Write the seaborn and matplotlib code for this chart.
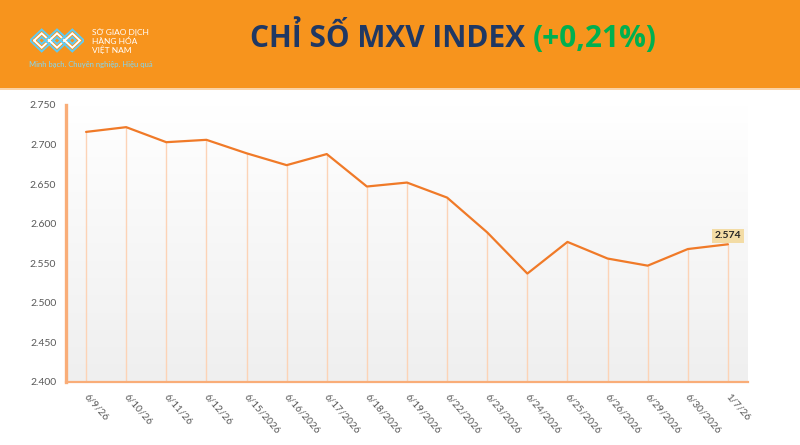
import numpy as np
import pandas as pd
import matplotlib
matplotlib.use("Agg")
import matplotlib.pyplot as plt
import matplotlib.transforms as mtransforms
import seaborn as sns
from matplotlib.patches import Rectangle

# dữ liệu chỉ số MXV
dates = ["6/9/26", "6/10/26", "6/11/26", "6/12/26", "6/15/2026", "6/16/2026",
         "6/17/2026", "6/18/2026", "6/19/2026", "6/22/2026", "6/23/2026",
         "6/24/2026", "6/25/2026", "6/26/2026", "6/29/2026", "6/30/2026", "1/7/26"]
values = [2716, 2722, 2703, 2706, 2689, 2674, 2688, 2647, 2652, 2633, 2589,
          2537, 2577, 2556, 2547, 2568, 2574]
y_ticks = [2400, 2450, 2500, 2550, 2600, 2650, 2700, 2750]
title_main = "CHỈ SỐ MXV INDEX "
title_change = "(+0,21%)"

ORANGE = "#f7941d"
LINE = "#f07a28"
NAVY = "#1f3864"
GREEN = "#00b050"
GRAY = "#595959"
CYAN = "#5fcaf2"

sns.set_style("white")
plt.rcParams["font.family"] = ["Lato", "DejaVu Sans"]

df = pd.DataFrame({"pos": np.arange(len(dates)), "value": values})

fig = plt.figure(figsize=(8, 4.45), dpi=100)
fig.patch.set_facecolor("white")

# dải tiêu đề màu cam
fig.patches.append(Rectangle((0, 0.802), 1, 0.198, transform=fig.transFigure,
                             facecolor=ORANGE, edgecolor="none", zorder=-10))
fig.patches.append(Rectangle((0, 0.798), 1, 0.005, transform=fig.transFigure,
                             facecolor="#fbd3a6", edgecolor="none", zorder=-10))

ax = fig.add_axes([66 / 800, 1 - 382 / 445, 682 / 800, 277 / 445])

# nền chuyển sắc trắng -> xám
grad = np.linspace(1, 0, 256).reshape(-1, 1)
ax.imshow(grad, cmap=matplotlib.colors.LinearSegmentedColormap.from_list(
    "g", ["#efefef", "#ffffff"]), aspect="auto",
    extent=(-0.5, len(dates) - 0.5, 2400, 2750), origin="upper", zorder=0)

ax.vlines(df["pos"], 2400, df["value"], color="#fcd3b6", lw=1.0, zorder=1)
sns.lineplot(data=df, x="pos", y="value", ax=ax, color=LINE, lw=1.6, zorder=3)

ax.set_xlim(-0.5, len(dates) - 0.5)
ax.set_ylim(2400, 2750)
ax.set_yticks(y_ticks)
ax.set_yticklabels([f"{v / 1000:.3f}" for v in y_ticks], color=GRAY, fontsize=7.5)
ax.set_xticks(df["pos"])
ax.set_xticklabels(dates, rotation=-49, ha="left", va="top", color=GRAY, fontsize=7.2)
ax.tick_params(axis="both", length=0)
ax.tick_params(axis="y", pad=7)
ax.tick_params(axis="x", pad=7)
# dịch nhãn trục x sang trái một chút
shift = mtransforms.ScaledTranslation(-4 / 100, 0, fig.dpi_scale_trans)
for lbl in ax.get_xticklabels():
    lbl.set_transform(lbl.get_transform() + shift)
ax.set_xlabel("")
ax.set_ylabel("")
ax.grid(False)

for s in ["top", "right"]:
    ax.spines[s].set_visible(False)
ax.spines["left"].set_color("#f9ad78")
ax.spines["left"].set_linewidth(2.4)
ax.spines["bottom"].set_color("#f9ad78")
ax.spines["bottom"].set_linewidth(1.6)

# nhãn giá trị cuối
ax.annotate(f"{values[-1] / 1000:.3f}", xy=(df["pos"].iloc[-1], values[-1]),
            xytext=(0, 6), textcoords="offset points", ha="center", va="center",
            fontsize=7.5, fontweight="bold", color="#262626",
            bbox=dict(boxstyle="square,pad=0.25", fc="#f3dca5", ec="none"), zorder=5)

# tiêu đề
t1 = fig.text(250 / 800, 1 - 39 / 445, title_main, ha="left", va="center",
              fontsize=21.5, fontweight="bold", color=NAVY, family=["Open Sans", "DejaVu Sans"])
fig.canvas.draw()
bb = t1.get_window_extent()
fig.text(bb.x1 / fig.bbox.width, 1 - 39 / 445, title_change, ha="left", va="center",
         fontsize=21.5, fontweight="bold", color=GREEN, family=["Open Sans", "DejaVu Sans"])

# logo
lax = fig.add_axes([30 / 800, 1 - 54 / 445, 54 / 800, 27 / 445])
lax.set_xlim(0, 6)
lax.set_ylim(-1.6, 1.6)
lax.axis("off")
for cx in [1.3, 3.0, 4.7]:
    for r, c in zip([0.4, 0.85, 1.3], [CYAN, "white", CYAN]):
        lax.plot([cx - r, cx, cx + r, cx, cx - r], [0, r, 0, -r, 0],
                 color=c, lw=1.4, solid_joinstyle="miter")
fig.text(92 / 800, 1 - 32 / 445, "SỞ GIAO DỊCH", fontsize=6, color="white", va="center")
fig.text(92 / 800, 1 - 41 / 445, "HÀNG HÓA", fontsize=6, color="white", va="center")
fig.text(92 / 800, 1 - 50 / 445, "VIỆT NAM", fontsize=6, color="white", va="center")
fig.text(29 / 800, 1 - 64 / 445, "Minh bạch. Chuyên nghiệp. Hiệu quả", fontsize=5.5,
         color="#7fd8f8", va="center")

fig.savefig("out.png", dpi=100)
